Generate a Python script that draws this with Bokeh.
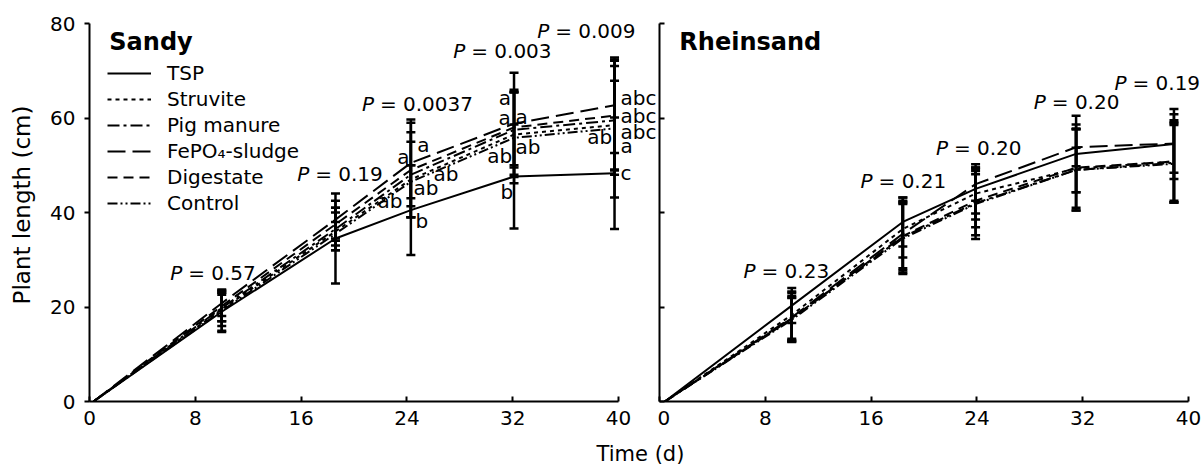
from bokeh.plotting import figure
from bokeh.models import (Range1d, FixedTicker, Whisker, TeeHead, ColumnDataSource,
                          LabelSet, Label, Legend, LegendItem)
from bokeh.layouts import column, row
from bokeh.embed import file_html
from bokeh.resources import INLINE
from bokeh.core.properties import value

FONT = "DejaVu Sans"

# ---------------- data ----------------
series = ["TSP", "Struvite", "Pig manure", "FePO\u2084-sludge", "Digestate", "Control"]
dashes = ["solid", "4 4", "12 4 3 4", "18 7", "10 6", "10 3 2 3 2 3"]

# Sandy soil
t_sandy = [0.3, 10, 18.6, 24.3, 32.1, 39.7]
sandy_tsp = [0, 19.0, 34.5, 40.5, 47.6, 48.3]
sandy_struvite = [0, 19.5, 36.0, 47.0, 56.5, 58.5]
sandy_pig = [0, 19.8, 36.5, 48.0, 57.5, 59.5]
sandy_fepo4 = [0, 20.8, 38.5, 50.5, 58.8, 62.7]
sandy_digestate = [0, 20.2, 37.5, 49.0, 58.0, 60.5]
sandy_control = [0, 19.2, 35.5, 46.5, 55.8, 57.8]

sandy_sd_tsp = [0, 4.0, 9.5, 9.5, 11.0, 11.8]
sandy_sd_struvite = [0, 3.5, 4.0, 8.0, 9.0, 9.4]
sandy_sd_pig = [0, 2.8, 4.5, 9.0, 8.0, 11.5]
sandy_sd_fepo4 = [0, 2.7, 4.0, 9.2, 10.8, 10.1]
sandy_sd_digestate = [0, 3.2, 3.5, 10.0, 8.0, 11.6]
sandy_sd_control = [0, 4.5, 2.5, 3.5, 9.6, 14.6]

sandy_p_text = ["= 0.57", "= 0.19", "= 0.0037", "= 0.003", "= 0.009"]
sandy_p_x = [6.1, 15.7, 20.6, 27.5, 33.85]
sandy_p_y = [27.1, 48.1, 62.9, 74.1, 78.5]

sandy_letter_text = ["a", "a", "ab", "ab", "ab", "b",
                     "a", "a", "a", "ab", "ab", "b",
                     "abc", "abc", "abc", "a", "ab", "c"]
sandy_letter_x = [24.78, 23.27, 26.01, 24.50, 21.78, 24.65,
                  30.95, 30.93, 32.21, 32.21, 30.07, 31.08,
                  40.15, 40.15, 40.15, 40.15, 37.63, 40.15]
sandy_letter_y = [54.3, 51.8, 48.1, 45.2, 42.4, 38.2,
                  64.2, 60.0, 60.3, 53.9, 52.0, 44.3,
                  64.2, 60.5, 57.1, 54.1, 55.9, 48.3]

# Rheinsand soil
t_rhein = [0.4, 10, 18.4, 23.9, 31.5, 38.9]
rhein_tsp = [0, 20.3, 38.0, 45.0, 52.4, 54.5]
rhein_struvite = [0, 18.3, 36.5, 44.0, 49.3, 50.8]
rhein_pig = [0, 17.6, 34.8, 42.0, 49.0, 50.5]
rhein_fepo4 = [0, 17.8, 35.5, 46.0, 53.8, 54.6]
rhein_digestate = [0, 17.5, 35.0, 42.5, 49.5, 50.8]
rhein_control = [0, 17.3, 34.5, 41.8, 49.0, 50.3]

rhein_sd_tsp = [0, 3.7, 5.2, 5.2, 8.1, 7.4]
rhein_sd_struvite = [0, 5.0, 6.0, 5.5, 8.3, 8.3]
rhein_sd_pig = [0, 4.8, 7.5, 6.8, 8.6, 8.4]
rhein_sd_fepo4 = [0, 5.2, 7.7, 3.5, 4.0, 6.2]
rhein_sd_digestate = [0, 4.5, 6.8, 5.6, 9.1, 8.7]
rhein_sd_control = [0, 4.6, 7.5, 7.4, 4.7, 8.2]

rhein_p_text = ["= 0.23", "= 0.21", "= 0.20", "= 0.20", "= 0.19"]
rhein_p_x = [6.35, 15.2, 20.9, 28.3, 34.4]
rhein_p_y = [27.6, 46.7, 53.7, 63.3, 67.5]

x_ticks = [0, 8, 16, 24, 32, 40]
y_ticks = [0, 20, 40, 60, 80]

PX_PER_DAY = 13.225
PX_PER_CM = 4.725
FIG_H = 440
TOP, BOTTOM = 8, 39


def make_panel(title, t, means, sds, p_text, p_x, p_y, letters, width,
               border_left, left_labels, legend):
    frame_w = width - border_left
    frame_h = FIG_H - TOP - BOTTOM
    p = figure(width=width, height=FIG_H, output_backend="svg", toolbar_location=None,
               x_range=Range1d(0, frame_w / PX_PER_DAY),
               y_range=Range1d(0, frame_h / PX_PER_CM),
               min_border_left=border_left, min_border_right=0,
               min_border_top=TOP, min_border_bottom=BOTTOM,
               background_fill_color="white", border_fill_color="white")
    p.outline_line_color = None
    p.xgrid.visible = False
    p.ygrid.visible = False

    for ax in (p.xaxis[0], p.yaxis[0]):
        ax.axis_line_width = 2
        ax.major_tick_line_width = 2
        ax.minor_tick_line_color = None
        ax.major_label_text_font = FONT
        ax.major_label_text_font_size = "20px"
        ax.major_label_text_color = "black"
        ax.axis_line_color = "black"
        ax.major_tick_line_color = "black"

    p.xaxis.ticker = FixedTicker(ticks=x_ticks)
    p.xaxis.bounds = (0, 40)
    p.xaxis.major_tick_in = 5
    p.xaxis.major_tick_out = 0
    p.xaxis.major_label_standoff = 9

    p.yaxis.ticker = FixedTicker(ticks=y_ticks)
    p.yaxis.bounds = (0, 80)
    if left_labels:
        p.yaxis.major_tick_in = 0
        p.yaxis.major_tick_out = 5
        p.yaxis.major_label_standoff = 9
        p.yaxis.axis_label = "Plant length (cm)"
        p.yaxis.axis_label_text_font = FONT
        p.yaxis.axis_label_text_font_size = "23px"
        p.yaxis.axis_label_text_font_style = "normal"
        p.yaxis.axis_label_text_color = "black"
        p.yaxis.axis_label_standoff = 12
    else:
        p.yaxis.major_tick_in = 5
        p.yaxis.major_tick_out = 0
        p.yaxis.major_label_standoff = 0
        p.yaxis.major_label_overrides = {v: "" for v in y_ticks}

    # lines
    renderers = []
    for name, m, d in zip(series, means, dashes):
        r = p.line(t, m, line_color="black", line_width=2, line_dash=d)
        renderers.append(r)

    # error bars
    base, lower, upper = [], [], []
    for m, s in zip(means, sds):
        for ti, mi, si in zip(t[1:], m[1:], s[1:]):
            base.append(ti)
            lower.append(mi - si)
            upper.append(mi + si)
    src = ColumnDataSource(dict(base=base, lower=lower, upper=upper))
    wh = Whisker(base="base", lower="lower", upper="upper", source=src,
                 line_color="black", line_width=2.5,
                 upper_head=TeeHead(size=9, line_width=2.5, line_color="black"),
                 lower_head=TeeHead(size=9, line_width=2.5, line_color="black"))
    p.add_layout(wh)

    # P labels
    psrc = ColumnDataSource(dict(x=p_x, y=p_y, txt=p_text, pp=["P"] * len(p_x)))
    p.add_layout(LabelSet(x="x", y="y", text="pp", source=psrc, text_font=value(FONT),
                          text_font_size="20px", text_font_style="italic",
                          text_align="left", text_baseline="middle", text_color="black"))
    p.add_layout(LabelSet(x="x", y="y", text="txt", source=psrc, text_font=value(FONT),
                          text_font_size="20px", x_offset=18,
                          text_align="left", text_baseline="middle", text_color="black"))

    if letters is not None:
        lt, lx, ly = letters
        lsrc = ColumnDataSource(dict(x=lx, y=ly, txt=lt))
        p.add_layout(LabelSet(x="x", y="y", text="txt", source=lsrc, text_font=value(FONT),
                              text_font_size="20px", text_align="left",
                              text_baseline="middle", text_color="black"))

    p.add_layout(Label(x=1.5, y=76.0, text=title, text_font=FONT, text_font_size="24px",
                       text_font_style="bold", text_align="left",
                       text_baseline="alphabetic", text_color="black"))

    if legend:
        lg = Legend(items=[LegendItem(label=n, renderers=[r]) for n, r in zip(series, renderers)],
                    location=(18, 185), glyph_width=44, glyph_height=26, label_height=26,
                    label_standoff=16, spacing=0, padding=0, margin=0,
                    border_line_color=None, background_fill_alpha=0,
                    label_text_font=FONT, label_text_font_size="20px",
                    label_text_color="black")
        p.add_layout(lg)
    return p


p1 = make_panel("Sandy", t_sandy,
                [sandy_tsp, sandy_struvite, sandy_pig, sandy_fepo4, sandy_digestate, sandy_control],
                [sandy_sd_tsp, sandy_sd_struvite, sandy_sd_pig, sandy_sd_fepo4, sandy_sd_digestate,
                 sandy_sd_control],
                sandy_p_text, sandy_p_x, sandy_p_y,
                (sandy_letter_text, sandy_letter_x, sandy_letter_y),
                width=657, border_left=89, left_labels=True, legend=True)

p2 = make_panel("Rheinsand", t_rhein,
                [rhein_tsp, rhein_struvite, rhein_pig, rhein_fepo4, rhein_digestate, rhein_control],
                [rhein_sd_tsp, rhein_sd_struvite, rhein_sd_pig, rhein_sd_fepo4, rhein_sd_digestate,
                 rhein_sd_control],
                rhein_p_text, rhein_p_x, rhein_p_y, None,
                width=544, border_left=2, left_labels=False, legend=False)

LAB_H = 25
plab = figure(width=1201, height=LAB_H, output_backend="svg", toolbar_location=None,
              x_range=Range1d(0, 1201), y_range=Range1d(0, LAB_H),
              x_axis_type=None, y_axis_type=None,
              min_border_left=0, min_border_right=0, min_border_top=0, min_border_bottom=0)
plab.outline_line_color = None
plab.xgrid.visible = False
plab.ygrid.visible = False
plab.add_layout(Label(x=640, y=12, text="Time (d)", text_font=FONT, text_font_size="21px",
                      text_align="center", text_baseline="alphabetic", text_color="black"))

layout = column(row(p1, p2), plab)
open("out.html", "w").write(file_html(layout, INLINE))
